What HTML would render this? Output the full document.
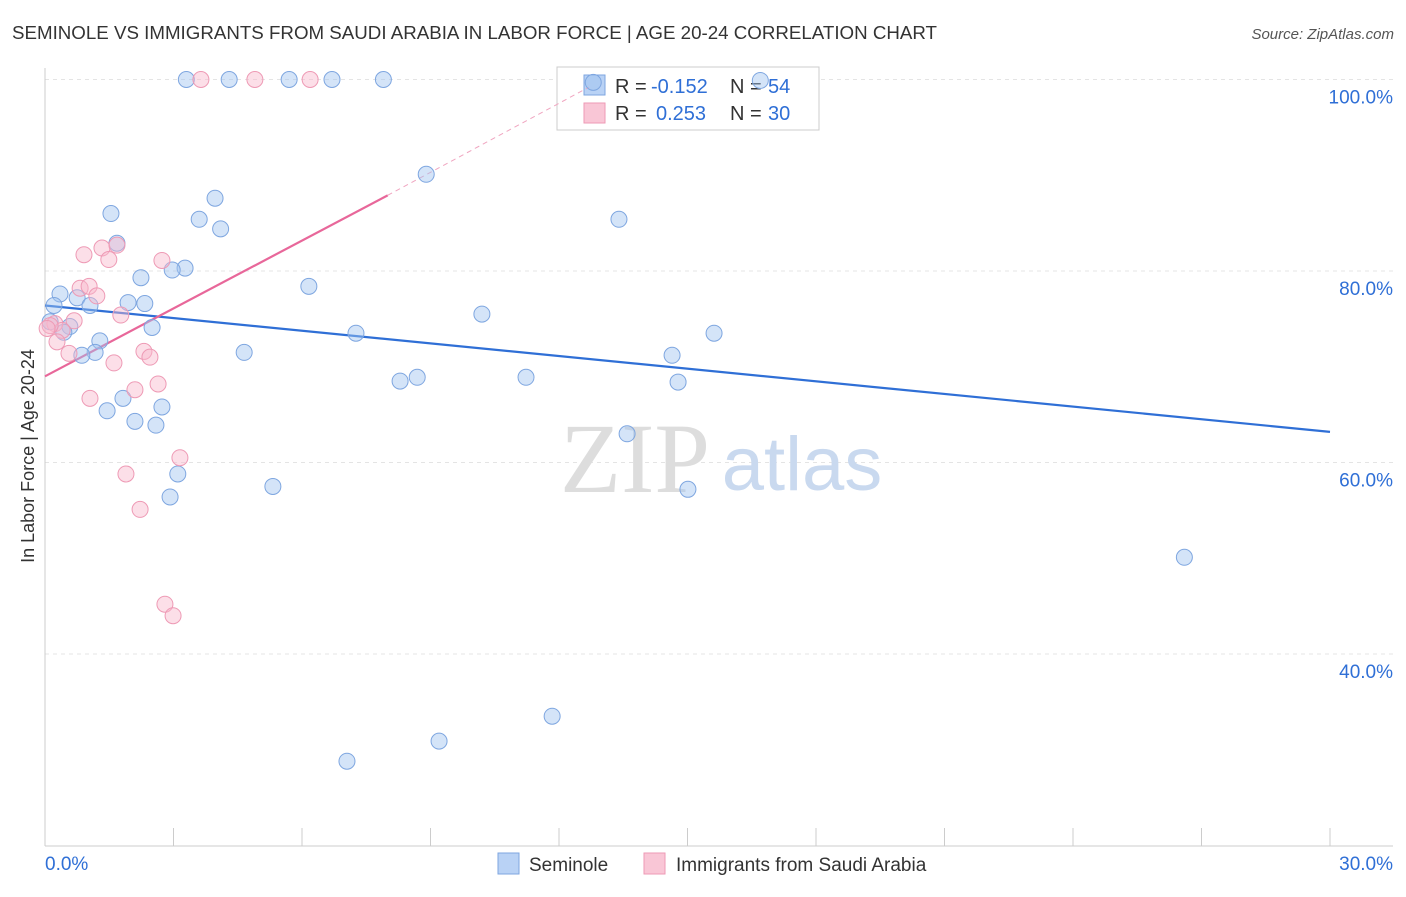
<!DOCTYPE html>
<html><head><meta charset="utf-8"><style>
body{margin:0;background:#fff;font-family:"Liberation Sans",sans-serif;}
</style></head><body>
<svg width="1406" height="892" xmlns="http://www.w3.org/2000/svg">
<text x="12" y="39" font-size="18" fill="#333" textLength="925" lengthAdjust="spacingAndGlyphs">SEMINOLE VS IMMIGRANTS FROM SAUDI ARABIA IN LABOR FORCE | AGE 20-24 CORRELATION CHART</text>
<text x="1394" y="39" font-size="15" fill="#555" font-style="italic" text-anchor="end">Source: ZipAtlas.com</text>
<text transform="translate(34,456) rotate(-90)" font-size="18" fill="#333" text-anchor="middle">In Labor Force | Age 20-24</text>
<g id="grid"></g>
<g>
<text x="635" y="492" font-size="100" fill="#ddd" font-family="Liberation Serif,serif" text-anchor="middle">ZIP</text>
<text x="802" y="490" font-size="76" fill="#c9d9ef" text-anchor="middle">atlas</text></g>
<g id="ticks"></g>
<g>
<rect x="557" y="67" width="262" height="63" fill="#fff" stroke="#ccc"/>
<rect x="584" y="75" width="21" height="20" fill="#b9d2f5" stroke="#7ea6e0"/>
<rect x="584" y="103" width="21" height="20" fill="#f9c6d6" stroke="#ee9ab5"/>
<text x="615" y="93" font-size="20" fill="#333">R =</text>
<text x="651" y="93" font-size="20" fill="#2f6fd6">-0.152</text>
<text x="730" y="93" font-size="20" fill="#333">N =</text>
<text x="768" y="93" font-size="20" fill="#2f6fd6">54</text>
<text x="615" y="120" font-size="20" fill="#333">R =</text>
<text x="656" y="120" font-size="20" fill="#2f6fd6">0.253</text>
<text x="730" y="120" font-size="20" fill="#333">N =</text>
<text x="768" y="120" font-size="20" fill="#2f6fd6">30</text>
</g>
<g id="lines"></g>
<g id="pts"></g>
<g>
<rect x="498" y="853" width="21" height="21" fill="#b9d2f5" stroke="#7ea6e0"/>
<text x="529" y="871" font-size="19" fill="#333">Seminole</text>
<rect x="644" y="853" width="21" height="21" fill="#f9c6d6" stroke="#ee9ab5"/>
<text x="676" y="871" font-size="19" fill="#333">Immigrants from Saudi Arabia</text>
</g>
</svg>
<script>
const xTicks=[0,3,6,9,12,15,18,21,24,27,30];
const yTicks=[40,60,80,100];
const blueX=[3.3,4.3,5.7,6.7,7.9,12.8,16.7,8.9,3.97,1.54,3.6,4.1,13.4,1.68,3.27,2.97,2.24,6.16,0.35,0.75,1.94,2.33,0.21,1.05,10.2,2.5,0.58,0.44,0.12,7.26,15.62,1.28,1.17,0.86,4.65,14.64,8.29,8.69,11.23,14.78,1.82,2.73,1.45,2.1,2.59,13.59,3.1,5.32,15.01,2.92,26.6,11.84,9.2,7.05];
const blueY=[100,100,100,100,100,99.7,99.9,90.1,87.6,86,85.4,84.4,85.4,82.9,80.3,80.1,79.3,78.4,77.6,77.2,76.7,76.6,76.4,76.4,75.5,74.1,74.2,73.6,74.7,73.5,73.5,72.7,71.5,71.2,71.5,71.2,68.5,68.9,68.9,68.4,66.7,65.8,65.4,64.3,63.9,63,58.8,57.5,57.2,56.4,50.1,33.5,30.9,28.8];
const pinkX=[3.64,4.9,6.19,0.91,1.33,1.68,1.49,2.73,0.82,1.03,1.21,1.77,0.68,0.23,0.4,0.12,0.28,0.56,2.31,2.45,1.61,2.1,2.64,1.05,3.15,1.89,2.22,2.8,2.99,0.05];
const pinkY=[100,100,100,81.7,82.4,82.7,81.2,81.1,78.2,78.4,77.4,75.4,74.8,74.5,73.8,74.3,72.6,71.4,71.6,71,70.4,67.6,68.2,66.7,60.5,58.8,55.1,45.2,44,74];
const blueTrend=[[0,76.4],[30,63.2]];
const pinkTrend=[[0,69],[8,87.9]];
const pinkExt=[[8,87.9],[12.7,99.2]];
const NS="http://www.w3.org/2000/svg";
const X=v=>45+v*(1285/30), Y=v=>79.5+(100-v)*9.575;
function mk(t,a,p){const e=document.createElementNS(NS,t);for(const k in a)e.setAttribute(k,a[k]);p.appendChild(e);return e;}
const grid=document.getElementById('grid'),ticks=document.getElementById('ticks'),lines=document.getElementById('lines'),pts=document.getElementById('pts');
yTicks.forEach(t=>{const l=mk('line',{x1:45,x2:1393,y1:Y(t),y2:Y(t),stroke:'#e4e4e4','stroke-dasharray':'4,4'},grid);


const tx=mk('text',{x:1393,y:Y(t)+24,'font-size':19,fill:'#2f6fd6','text-anchor':'end'},ticks);tx.textContent=t.toFixed(1)+'%';

});
mk('line',{x1:45,x2:45,y1:68,y2:846,stroke:'#ccc'},ticks);
mk('line',{x1:45,x2:1393,y1:846,y2:846,stroke:'#ccc'},ticks);
xTicks.forEach(t=>{const l=mk('line',{x1:X(t),x2:X(t),y1:828,y2:846,stroke:'#ccc'},ticks);

});
[[0,'0.0%','start',45],[30,'30.0%','end',1393]].forEach(a=>{const tx=mk('text',{x:a[3],y:870,'font-size':19,fill:'#2f6fd6','text-anchor':a[2]},ticks);tx.textContent=a[1];

});
function ln(d,c,w,dash,name){const l=mk('line',{x1:X(d[0][0]),y1:Y(d[0][1]),x2:X(d[1][0]),y2:Y(d[1][1]),stroke:c,'stroke-width':w},lines);if(dash)l.setAttribute('stroke-dasharray',dash);

}
ln(blueTrend,'#2f6fd6',2.2,null,'seminole-trend-line');
ln(pinkTrend,'#e8679a',2.2,null,'saudi-trend-line');
ln(pinkExt,'#f0a5c0',1,'5,4','saudi-trend-extension');
blueX.forEach((v,i)=>{const c=mk('circle',{cx:X(v),cy:Y(blueY[i]),r:8,fill:'rgba(160,195,240,0.45)',stroke:'#7ea6e0','stroke-width':1},pts);

});
pinkX.forEach((v,i)=>{const c=mk('circle',{cx:X(v),cy:Y(pinkY[i]),r:8,fill:'rgba(248,185,205,0.45)',stroke:'#ee9ab5','stroke-width':1},pts);

});
</script>
</body></html>
